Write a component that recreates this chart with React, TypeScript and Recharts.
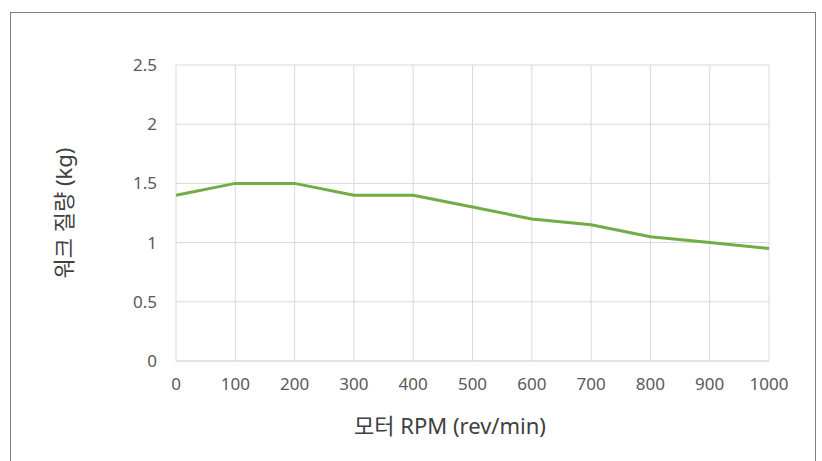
import React from "react";
import { LineChart, Line, XAxis, YAxis, CartesianGrid, Label } from "recharts";

const rpm = [0, 100, 200, 300, 400, 500, 600, 700, 800, 900, 1000];
const mass = [1.4, 1.5, 1.5, 1.4, 1.4, 1.3, 1.2, 1.15, 1.05, 1.0, 0.95];
const xTicks = [0, 100, 200, 300, 400, 500, 600, 700, 800, 900, 1000];
const yTicks = [0, 0.5, 1, 1.5, 2, 2.5];
const xTitle = "모터 RPM (rev/min)";
const yTitle = "워크 질량 (kg)";

const data = rpm.map((r, i) => ({ rpm: r, mass: mass[i] }));

const FONT = "'Noto Sans', 'Noto Sans CJK KR', sans-serif";

export default function App() {
  return (
    <div style={{ position: "absolute", left: 0, top: 0, width: 822, height: 461, background: "#fff", overflow: "hidden" }}>
      <div
        style={{
          position: "absolute",
          left: 10,
          top: 12,
          width: 806,
          height: 470,
          border: "1px solid #7f7f7f",
          boxSizing: "border-box",
        }}
      />
      <div style={{ position: "absolute", left: 0, top: 0 }}>
        <LineChart width={822} height={461} data={data} margin={{ top: 65, right: 53, bottom: 0, left: 0 }}>
          <CartesianGrid stroke="#d9d9d9" strokeWidth={1} />
          <XAxis
            dataKey="rpm"
            type="number"
            domain={[0, 1000]}
            ticks={xTicks}
            interval={0}
            height={100}
            tickLine={false}
            axisLine={{ stroke: "#d9d9d9" }}
            tickSize={0}
            tickMargin={17}
            tick={{ fill: "#595959", fontSize: 17, fontFamily: FONT }}
          >
            <Label
              content={({ viewBox }: any) => (
                <text
                  x={450}
                  y={viewBox.y + 67}
                  textAnchor="middle"
                  dominantBaseline="middle"
                  fill="#404040"
                  fontSize={22}
                  fontFamily={FONT}
                >
                  {xTitle}
                </text>
              )}
            />
          </XAxis>
          <YAxis
            type="number"
            domain={[0, 2.5]}
            ticks={yTicks}
            interval={0}
            width={176}
            axisLine={false}
            tickLine={false}
            tickSize={0}
            tickMargin={19}
            tick={{ fill: "#595959", fontSize: 17, fontFamily: FONT }}
          >
            <Label
              content={({ viewBox }: any) => (
                <text
                  x={66}
                  y={viewBox.y + viewBox.height / 2}
                  textAnchor="middle"
                  dominantBaseline="middle"
                  transform={`rotate(-90, 66, ${viewBox.y + viewBox.height / 2})`}
                  fill="#404040"
                  fontSize={22}
                  fontFamily={FONT}
                >
                  {yTitle}
                </text>
              )}
            />
          </YAxis>
          <Line
            type="linear"
            dataKey="mass"
            stroke="#70ad47"
            strokeWidth={3}
            dot={false}
            isAnimationActive={false}
          />
        </LineChart>
      </div>
    </div>
  );
}
